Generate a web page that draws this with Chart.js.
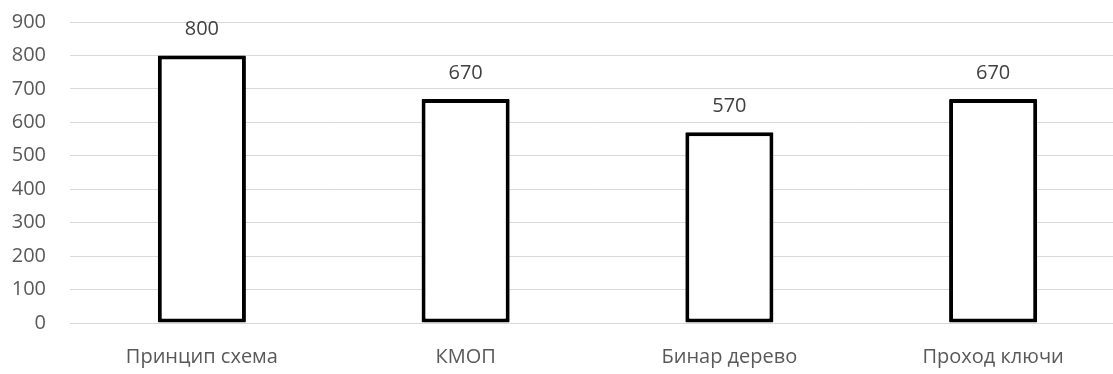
<!DOCTYPE html>
<html>
<head>
<meta charset="utf-8">
<script src="https://cdn.jsdelivr.net/npm/chart.js@4/dist/chart.umd.min.js"></script>
<style>
  html, body { margin: 0; padding: 0; background: #fff; overflow: hidden; }
  /* the plot runs a little past the right edge of the window */
  #wrap { width: 1125px; height: 374px; }
</style>
</head>
<body>
<div id="wrap"><canvas id="c"></canvas></div>
<script>
const categories = ['Принцип схема', 'КМОП', 'Бинар дерево', 'Проход ключи'];
const values = [800, 670, 570, 670];
const yTicks = [0, 100, 200, 300, 400, 500, 600, 700, 800, 900];

const FONT = "'Open Sans', 'Liberation Sans', sans-serif";

// Writes each bar's value centred above it
const valueLabels = {
  id: 'valueLabels',
  afterDatasetsDraw(chart) {
    const ctx = chart.ctx;
    const meta = chart.getDatasetMeta(0);
    ctx.save();
    ctx.font = '20px ' + FONT;
    ctx.fillStyle = '#404040';
    ctx.textAlign = 'center';
    ctx.textBaseline = 'middle';
    meta.data.forEach((bar, i) => {
      ctx.fillText(String(values[i]), bar.x, bar.y - 26);
    });
    ctx.restore();
  }
};

new Chart(document.getElementById('c'), {
  type: 'bar',
  data: {
    labels: categories,
    datasets: [{
      data: values,
      backgroundColor: '#ffffff',
      borderColor: '#000000',
      borderWidth: 4,
      borderRadius: 1,
      borderSkipped: false,
      categoryPercentage: 1,
      barPercentage: 0.334
    }]
  },
  options: {
    responsive: true,
    maintainAspectRatio: false,
    animation: false,
    layout: { padding: { top: 22, right: 0, left: 0, bottom: 0 } },
    plugins: { legend: { display: false }, tooltip: { enabled: false } },
    scales: {
      x: {
        grid: { display: false, drawTicks: false },
        border: { display: false },
        ticks: { color: '#595959', font: { family: FONT, size: 20 }, padding: 22 },
        afterFit(scale) {
          scale.height = 51;
          scale.paddingLeft = 0;
          scale.paddingRight = 0;
        }
      },
      y: {
        min: 0,
        max: 900,
        afterBuildTicks(scale) { scale.ticks = yTicks.map(v => ({ value: v })); },
        grid: { color: '#d9d9d9', lineWidth: 1, drawTicks: false },
        border: { display: false },
        ticks: { color: '#595959', font: { family: FONT, size: 20 }, padding: 24 },
        afterFit(scale) {
          scale.width = 70;
          scale.paddingTop = 0;
          scale.paddingBottom = 0;
        }
      }
    }
  },
  plugins: [valueLabels]
});
</script>
</body>
</html>
